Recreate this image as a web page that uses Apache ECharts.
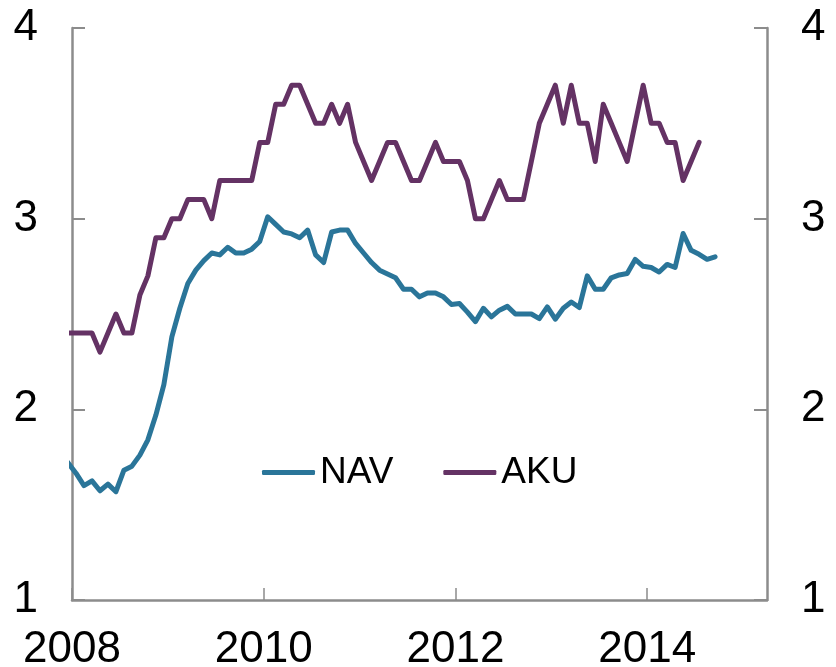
<!DOCTYPE html>
<html>
<head>
<meta charset="utf-8">
<script src="https://cdn.jsdelivr.net/npm/echarts@6/dist/echarts.min.js"></script>
<style>
  html, body { margin: 0; padding: 0; background: #fff; }
  #chart { width: 836px; height: 667px; }
</style>
</head>
<body>
<div id="chart"></div>
<script>
// monthly series, first value is Dec 2007 (clipped by the axis start)
const firstYear = 2007;
const firstMonth = 12;

const navValues = [
    1.72,
    1.665, 1.60, 1.625, 1.573, 1.608, 1.568, 1.681, 1.702, 1.76, 1.84, 1.97, 2.13,
    2.38, 2.53, 2.66, 2.73, 2.78, 2.82, 2.81, 2.85, 2.82, 2.82, 2.84, 2.88,
    3.01, 2.97, 2.93, 2.92, 2.90, 2.94, 2.81, 2.77, 2.93, 2.94, 2.94, 2.87,
    2.82, 2.77, 2.73, 2.71, 2.69, 2.63, 2.63, 2.59, 2.61, 2.61, 2.59, 2.55,
    2.555, 2.51, 2.46, 2.53, 2.485, 2.52, 2.54, 2.50, 2.50, 2.50, 2.476, 2.537,
    2.473, 2.53, 2.563, 2.534, 2.70, 2.63, 2.63, 2.69, 2.705, 2.712, 2.786, 2.75,
    2.744, 2.72, 2.76, 2.744, 2.922, 2.834, 2.813, 2.787, 2.80
];

const akuValues = [
    2.4,
    2.4, 2.4, 2.4, 2.3, 2.4, 2.5, 2.4, 2.4, 2.6, 2.7, 2.9, 2.9,
    3.0, 3.0, 3.1, 3.1, 3.1, 3.0, 3.2, 3.2, 3.2, 3.2, 3.2, 3.4,
    3.4, 3.6, 3.6, 3.7, 3.7, 3.6, 3.5, 3.5, 3.6, 3.5, 3.6, 3.4,
    3.3, 3.2, 3.3, 3.4, 3.4, 3.3, 3.2, 3.2, 3.3, 3.4, 3.3, 3.3,
    3.3, 3.2, 3.0, 3.0, 3.1, 3.2, 3.1, 3.1, 3.1, 3.3, 3.5, 3.6,
    3.7, 3.5, 3.7, 3.5, 3.5, 3.3, 3.6, 3.5, 3.4, 3.3, 3.5, 3.7,
    3.5, 3.5, 3.4, 3.4, 3.2, 3.3, 3.4
];

const xTicks = [2008, 2010, 2012, 2014];
const yTicks = [1, 2, 3, 4];

// month index -> decimal year at middle of the month
function monthToYear(i) {
    const m = firstMonth - 1 + i;
    return firstYear + Math.floor(m / 12) + ((m % 12) + 0.5) / 12;
}

function toPoints(values) {
    return values.map(function (v, i) {
        return [monthToYear(i), v];
    });
}

const font = 'Arial, "Liberation Sans", sans-serif';
const axisColor = '#8c8c8c';

const yAxisBase = {
    type: 'value',
    min: yTicks[0],
    max: yTicks[yTicks.length - 1],
    interval: 1,
    axisLine: { show: true, lineStyle: { color: axisColor, width: 2.5 } },
    axisTick: { show: true, inside: true, length: 13, lineStyle: { color: axisColor, width: 2 } },
    splitLine: { show: false },
    axisLabel: { color: '#000', fontFamily: font, fontSize: 44, margin: 34 }
};

const chart = echarts.init(document.getElementById('chart'));
const option = {
    animation: false,
    grid: { left: 72, right: 69, top: 28, bottom: 67, outerBoundsMode: 'none' },
    legend: {
        left: 257,
        top: 449,
        itemWidth: 53,
        itemHeight: 5,
        itemGap: 50,
        icon: 'roundRect',
        textStyle: { fontFamily: font, fontSize: 37, color: '#000', padding: [0, 0, 0, 0] },
        data: ['NAV', 'AKU']
    },
    xAxis: {
        type: 'value',
        min: xTicks[0],
        max: 2015.25,
        interval: 2,
        axisLine: { show: true, lineStyle: { color: axisColor, width: 2.5 } },
        axisTick: { show: true, inside: true, length: 12, lineStyle: { color: axisColor, width: 1.5 } },
        splitLine: { show: false },
        axisLabel: {
            color: '#000',
            fontFamily: font,
            fontSize: 44,
            margin: 28,
            showMaxLabel: false,
            formatter: function (v) {
                return xTicks.indexOf(v) >= 0 ? String(v) : '';
            }
        }
    },
    yAxis: [
        Object.assign({ position: 'left' }, yAxisBase),
        Object.assign({ position: 'right' }, yAxisBase)
    ],
    series: [
        {
            name: 'NAV',
            type: 'line',
            data: toPoints(navValues),
            showSymbol: false,
            symbol: 'none',
            lineStyle: { color: '#2a7599', width: 5, join: 'round', cap: 'round' },
            itemStyle: { color: '#2a7599' }
        },
        {
            name: 'AKU',
            type: 'line',
            data: toPoints(akuValues),
            showSymbol: false,
            symbol: 'none',
            lineStyle: { color: '#643264', width: 5, join: 'round', cap: 'round' },
            itemStyle: { color: '#643264' }
        }
    ]
};
chart.setOption(option);
</script>
</body>
</html>
